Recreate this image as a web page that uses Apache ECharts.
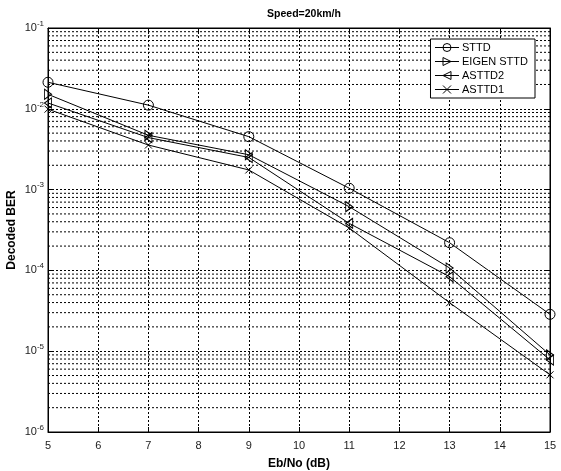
<!DOCTYPE html>
<html><head><meta charset="utf-8">
<script src="https://cdn.jsdelivr.net/npm/echarts@6/dist/echarts.min.js"></script>
<style>html,body{margin:0;padding:0;background:#fff}#c{width:561px;height:471px}</style>
</head><body><div id="c"></div>
<script>
const ebno = [5, 7, 9, 11, 13, 15];
const sttd = [0.0213, 0.0111, 0.00452, 0.00104, 0.000220, 0.0000286];
const eigenSttd = [0.0151, 0.0047, 0.0027, 0.000615, 0.000107, 0.0000090];
const asttd2 = [0.0118, 0.0044, 0.0025, 0.000382, 0.0000836, 0.0000078];
const asttd1 = [0.0099, 0.00356, 0.00175, 0.000335, 0.0000398, 0.0000051];
const xTicks = [5, 6, 7, 8, 9, 10, 11, 12, 13, 14, 15];
const decades = [-6, -5, -4, -3, -2, -1];
const names = ['STTD', 'EIGEN STTD', 'ASTTD2', 'ASTTD1'];

const minorLines = [];
for (let d = -6; d < -1; d++) {
  for (let m = 2; m <= 9; m++) minorLines.push(m * Math.pow(10, d));
}

const font = 'Liberation Sans, Arial, sans-serif';
const dot = { color: '#000', width: 1, type: [2, 2] };

function mk(name, data, symbol, size) {
  return {
    name, type: 'line', data: ebno.map((x, i) => [x, data[i]]),
    symbol, symbolSize: size, showSymbol: true,
    lineStyle: { color: '#000', width: 1 },
    itemStyle: { color: 'rgba(255,255,255,0)', borderColor: '#000', borderWidth: 1 },
    emphasis: { disabled: true }, z: 5
  };
}

const minorSeries = minorLines.map(v => ({
  type: 'line', data: [[5, v], [15, v]], symbol: 'none', silent: true, z: 1,
  lineStyle: dot, emphasis: { disabled: true }
}));

const chart = echarts.init(document.getElementById('c'), null, { renderer: 'canvas' });
chart.setOption({
  animation: false,
  backgroundColor: '#fff',
  title: { text: 'Speed=20km/h', left: 299, textAlign: 'center', top: 4,
    textStyle: { fontFamily: font, fontSize: 10.5, fontWeight: 'bold', color: '#000' } },
  grid: { left: 48, right: 11, top: 28, bottom: 39, show: true, borderColor: '#000', borderWidth: 1,
    backgroundColor: '#fff', containLabel: false, outerBoundsMode: 'none' },
  legend: {
    orient: 'vertical', right: 26, top: 39, itemWidth: 24, itemHeight: 10, itemGap: 3,
    backgroundColor: '#fff', borderColor: '#000', borderWidth: 1, padding: [3, 7, 3, 4],
    textStyle: { fontFamily: font, fontSize: 11, color: '#000', padding: [0, 0, 0, -2] },
    itemStyle: { color: 'rgba(255,255,255,0)', borderColor: '#000', borderWidth: 1 },
    lineStyle: { color: '#000', width: 1 },
    data: names
  },
  xAxis: [{
    type: 'value', min: 5, max: 15, interval: 1,
    name: 'Eb/No (dB)', nameLocation: 'middle', nameGap: 26, nameMoveOverlap: false,
    nameTextStyle: { fontFamily: font, fontSize: 12, fontWeight: 'bold', color: '#000' },
    axisLine: { lineStyle: { color: '#000' } },
    axisTick: { inside: true, length: 5, lineStyle: { color: '#000' } },
    axisLabel: { fontFamily: font, fontSize: 11, color: '#222', margin: 8,
      formatter: v => xTicks.includes(v) ? String(v) : '' },
    splitLine: { show: true, lineStyle: dot }
  }, {
    type: 'value', min: 5, max: 15, interval: 1, position: 'top',
    axisLine: { lineStyle: { color: '#000' } },
    axisTick: { inside: true, length: 5, lineStyle: { color: '#000' } },
    axisLabel: { show: false }, splitLine: { show: false }
  }],
  yAxis: [{
    type: 'log', logBase: 10, min: 1e-6, max: 1e-1,
    name: 'Decoded BER', nameLocation: 'middle', nameGap: 30, nameMoveOverlap: false,
    nameTextStyle: { fontFamily: font, fontSize: 12, fontWeight: 'bold', color: '#000' },
    axisLine: { lineStyle: { color: '#000' } },
    axisTick: { inside: true, length: 5, lineStyle: { color: '#000' } },
    axisLabel: {
      fontFamily: font, color: '#222', margin: 4,
      formatter: v => { const e = Math.round(Math.log10(v)); return decades.includes(e) ? '{b|10}{s|' + e + '}' : ''; },
      rich: { b: { fontSize: 11, fontFamily: font, color: '#222' },
              s: { fontSize: 8, fontFamily: font, color: '#222', padding: [0, 0, 9, 0] } }
    },
    splitLine: { show: true, lineStyle: dot }
  }, {
    type: 'log', logBase: 10, min: 1e-6, max: 1e-1, position: 'right',
    axisLine: { lineStyle: { color: '#000' } },
    axisTick: { inside: true, length: 5, lineStyle: { color: '#000' } },
    axisLabel: { show: false }, splitLine: { show: false }
  }],
  series: [
    mk(names[0], sttd, 'circle', 10),
    mk(names[1], eigenSttd, 'path://M0,0L10,5L0,10Z', [7, 10]),
    mk(names[2], asttd2, 'path://M10,0L0,5L10,10Z', [7, 10]),
    mk(names[3], asttd1, 'path://M0,0L10,10M10,0L0,10', 7)
  ].concat(minorSeries)
});
</script></body></html>
